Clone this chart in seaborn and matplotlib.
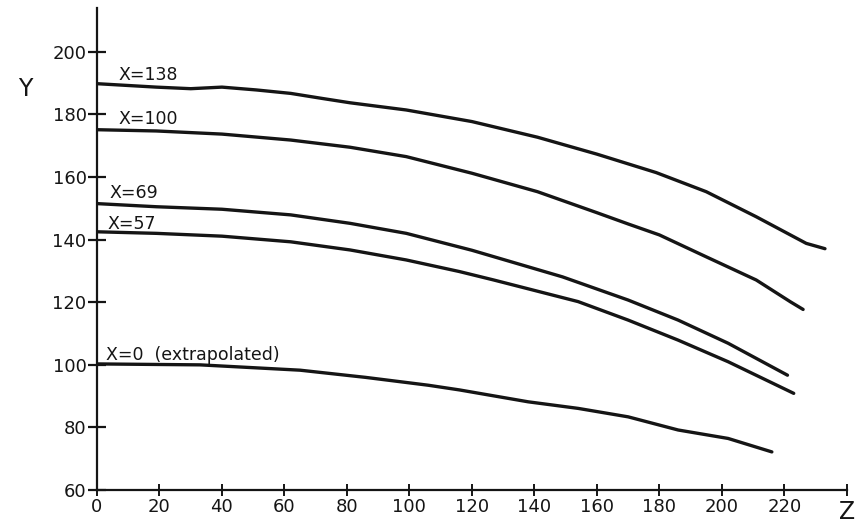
import pandas as pd
import seaborn as sns
import matplotlib.pyplot as plt

# values (Z, Y) for each curve
z_138 = [0, 19, 30, 40, 51, 62, 72, 81, 99, 120, 141, 160, 179, 195, 211, 227, 233]
y_138 = [189.8, 188.7, 188.2, 188.7, 187.8, 186.7, 185.1, 183.7, 181.4, 177.7, 172.7, 167.3, 161.4, 155.3, 147.3, 138.8, 137.1]

z_100 = [0, 19, 40, 62, 81, 99, 120, 141, 160, 170, 180, 195, 211, 222, 226]
y_100 = [175.1, 174.7, 173.7, 171.8, 169.5, 166.5, 161.2, 155.3, 148.6, 145.0, 141.5, 134.5, 127.1, 120.1, 117.7]

z_69 = [0, 19, 40, 62, 81, 99, 120, 149, 170, 186, 202, 221]
y_69 = [151.5, 150.5, 149.7, 147.9, 145.2, 142.0, 136.6, 128.1, 120.7, 114.3, 106.9, 96.7]

z_57 = [0, 19, 40, 62, 81, 99, 116, 127, 154, 170, 186, 202, 223]
y_57 = [142.5, 142.0, 141.1, 139.3, 136.7, 133.5, 129.8, 127.1, 120.2, 114.3, 107.9, 101.0, 90.9]

z_0 = [0, 33, 65, 86, 106, 116, 138, 154, 170, 186, 202, 216]
y_0 = [100.3, 100, 98.3, 96.0, 93.5, 92.0, 88.2, 86.1, 83.4, 79.2, 76.5, 72.2]

curve_labels = ["X=138", "X=100", "X=69", "X=57", "X=0  (extrapolated)"]
label_pos = [(7, 191), (7, 176.8), (4, 153.4), (3.5, 143.5), (3, 101.7)]

x_ticks = list(range(0, 241, 20))
x_tick_labels = [str(t) for t in range(0, 221, 20)] + [""]
y_ticks = list(range(60, 201, 20))

sns.set_style("ticks")
plt.rcParams["font.family"] = ["DejaVu Sans"]

fig = plt.figure(figsize=(8.58, 5.27), dpi=100)
ax = fig.add_axes([0.113, 0.070, 0.874, 0.915])

curves = [(z_138, y_138), (z_100, y_100), (z_69, y_69), (z_57, y_57), (z_0, y_0)]
for (zs, ys) in curves:
    df = pd.DataFrame({"Z": zs, "Y": ys})
    sns.lineplot(data=df, x="Z", y="Y", color="#151515", linewidth=2.4, sort=False, ax=ax)

for txt, (tx, ty) in zip(curve_labels, label_pos):
    ax.text(tx, ty, txt, fontsize=12.5, color="#151515", ha="left", va="baseline")

ax.set_xlim(0, 240)
ax.set_ylim(60, 214)
ax.set_xticks(x_ticks)
ax.set_xticklabels(x_tick_labels)
ax.set_yticks(y_ticks)
ax.set_xlabel("")
ax.set_ylabel("")

sns.despine(ax=ax)
ax.spines["left"].set_linewidth(1.6)
ax.spines["bottom"].set_linewidth(1.6)
ax.spines["left"].set_color("#151515")
ax.spines["bottom"].set_color("#151515")
ax.tick_params(axis="y", direction="inout", length=13, width=1.6, pad=1, labelsize=13, colors="#151515")
ax.tick_params(axis="x", direction="inout", length=8, width=1.4, pad=2, labelsize=13, colors="#151515")

ax.text(-0.096, 188, "Y", transform=ax.get_yaxis_transform(), fontsize=17,
        ha="center", va="center", color="#151515")
ax.text(240, -0.046, "Z", transform=ax.get_xaxis_transform(), fontsize=17,
        ha="center", va="center", color="#151515")

fig.savefig("out.png", dpi=100, facecolor="white")
